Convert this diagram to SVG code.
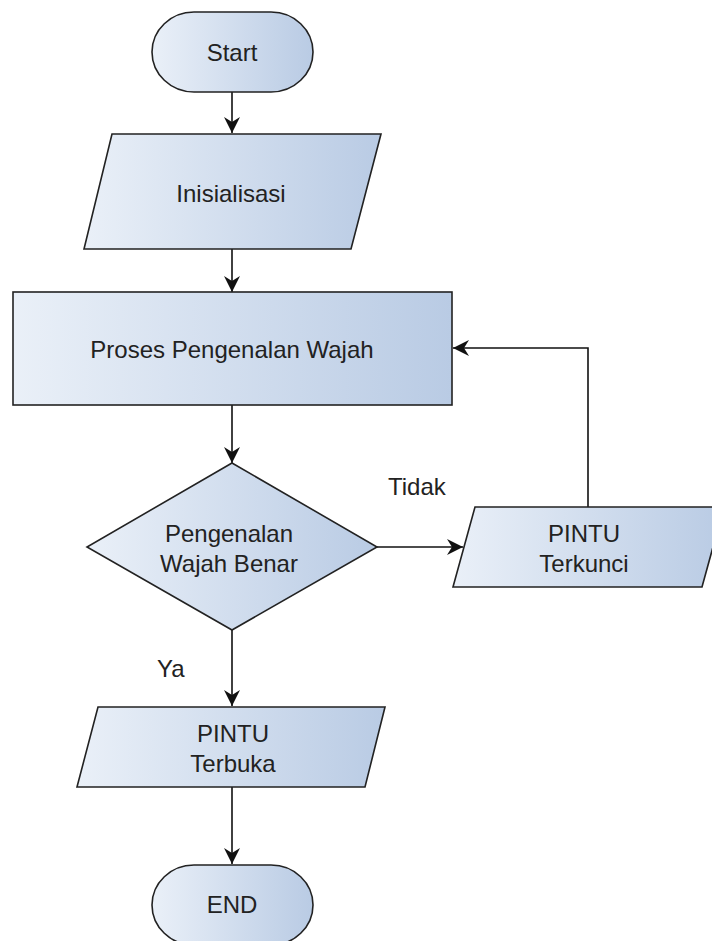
<svg xmlns="http://www.w3.org/2000/svg" width="712" height="941" viewBox="0 0 712 941">
  <defs>
    <linearGradient id="fillGrad" x1="0" y1="0" x2="1" y2="0">
      <stop offset="0" stop-color="#eaf0f8"/>
      <stop offset="1" stop-color="#b9cbe4"/>
    </linearGradient>
    <marker id="arrow" markerUnits="userSpaceOnUse" markerWidth="18" markerHeight="16" refX="16" refY="8" orient="auto">
      <path d="M0,0 L16,8 L0,16 L5,8 z" fill="#111"/>
    </marker>
    <style>
      .shape { fill: url(#fillGrad); stroke: #222; stroke-width: 1.6; }
      .conn { fill: none; stroke: #111; stroke-width: 1.6; marker-end: url(#arrow); }
      .label { font-family: "Liberation Sans", Arial, sans-serif; font-size: 24px; fill: #222; text-anchor: middle; }
      .elabel { font-family: "Liberation Sans", Arial, sans-serif; font-size: 24px; fill: #222; }
    </style>
  </defs>
  <rect width="712" height="941" fill="#ffffff"/>

  <g id="connectors">
    <path class="conn" d="M232,92 L232,133"/>
    <path class="conn" d="M232,249 L232,292"/>
    <path class="conn" d="M232,405 L232,463"/>
    <path class="conn" d="M377,547 L463,547"/>
    <path class="conn" d="M588,507 L588,348 L453,348"/>
    <path class="conn" d="M232,630 L232,706"/>
    <path class="conn" d="M232,787 L232,864"/>
    <text class="elabel" x="388" y="495">Tidak</text>
    <text class="elabel" x="157" y="677">Ya</text>
  </g>

  <g id="start">
    <rect class="shape" x="152" y="12" width="161" height="80" rx="42" ry="40"/>
    <text class="label" x="232" y="61">Start</text>
  </g>

  <g id="inisialisasi">
    <polygon class="shape" points="112,134 381,134 351,249 84,249"/>
    <text class="label" x="231" y="202">Inisialisasi</text>
  </g>

  <g id="proses">
    <rect class="shape" x="13" y="292" width="439" height="113"/>
    <text class="label" x="232" y="358">Proses Pengenalan Wajah</text>
  </g>

  <g id="decision">
    <polygon class="shape" points="232,463 377,547 232,630 87,547"/>
    <text class="label" x="229" y="542">Pengenalan</text>
    <text class="label" x="229" y="572">Wajah Benar</text>
  </g>

  <g id="terkunci">
    <polygon class="shape" points="475,507 724,507 702,587 453,587"/>
    <text class="label" x="584" y="542">PINTU</text>
    <text class="label" x="584" y="572">Terkunci</text>
  </g>

  <g id="terbuka">
    <polygon class="shape" points="98,707 385,707 365,787 77,787"/>
    <text class="label" x="233" y="742">PINTU</text>
    <text class="label" x="233" y="772">Terbuka</text>
  </g>

  <g id="end">
    <rect class="shape" x="152" y="865" width="161" height="80" rx="42" ry="40"/>
    <text class="label" x="232" y="913">END</text>
  </g>
</svg>
